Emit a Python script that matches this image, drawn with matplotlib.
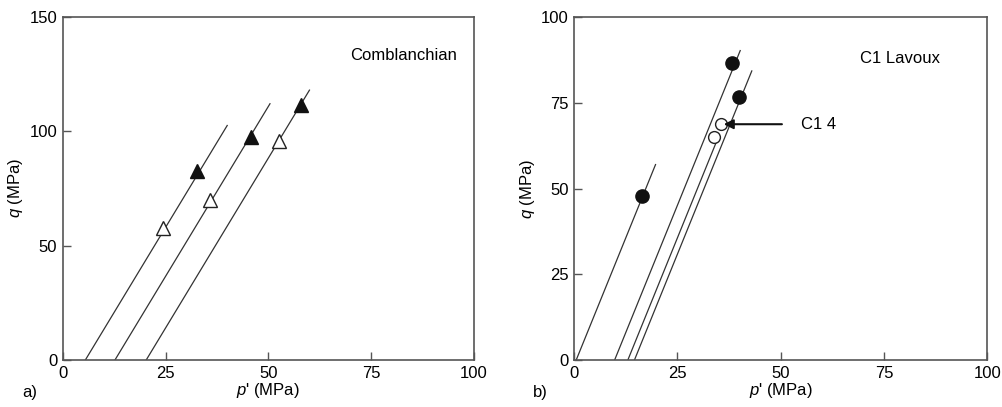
import matplotlib
matplotlib.use("Agg")
import matplotlib.pyplot as plt

plt.rcParams['font.family'] = ['Liberation Sans', 'DejaVu Sans']
plt.rcParams['mathtext.fontset'] = 'custom'
plt.rcParams['mathtext.it'] = 'Liberation Sans:italic'
plt.rcParams['mathtext.rm'] = 'Liberation Sans'

# a) Comblanchian
a_line_p0 = [5.5, 12.7, 20.3]
a_line_p1 = [40.0, 50.4, 60.0]
a_open_p = [24.5, 35.8, 52.6]
a_open_q = [57.5, 69.9, 95.8]
a_fill_p = [32.7, 45.7, 57.9]
a_fill_q = [82.7, 97.6, 111.4]

# b) C1 Lavoux
b_line_p0 = [0.5, 9.8, 13.0, 14.6]
b_line_p1 = [19.7, 40.2, 35.0, 43.0]
b_open_p = [33.9, 35.5]
b_open_q = [65.0, 68.8]
b_fill_p = [16.4, 38.3, 39.9]
b_fill_q = [47.8, 86.6, 76.6]

SLOPE = 2.97
EDGE = '#555555'
FS = 12


def style(ax, ymax, yticks):
	ax.set_xlim(0, 100)
	ax.set_ylim(0, ymax)
	ax.set_xticks([0, 25, 50, 75, 100])
	ax.set_yticks(yticks)
	ax.tick_params(direction='in', length=6, width=1, color=EDGE, labelsize=FS, pad=4)
	for s in ax.spines.values():
		s.set_color(EDGE)
		s.set_linewidth(1.2)
	ax.set_xlabel("$p$' (MPa)", fontsize=FS, labelpad=0)
	ax.set_ylabel("$q$ (MPa)", fontsize=FS, labelpad=3)


def lines(ax, p0s, p1s):
	for p0, p1 in zip(p0s, p1s):
		ax.plot([p0, p1], [0, SLOPE * (p1 - p0)], color='#333333', lw=0.9)


fig = plt.figure(figsize=(10.02, 4.07), dpi=100)
ax1 = fig.add_axes([0.0626, 0.1155, 0.4104, 0.8435])
ax2 = fig.add_axes([0.573, 0.1155, 0.4123, 0.842])

# panel a
lines(ax1, a_line_p0, a_line_p1)
ax1.plot(a_open_p, a_open_q, '^', ms=10.5, mfc='white', mec='#222222', mew=1)
ax1.plot(a_fill_p, a_fill_q, '^', ms=10.5, mfc='#111111', mec='#111111')
ax1.text(82.8, 133.2, "Comblanchian", ha='center', va='center', fontsize=FS)
style(ax1, 150, [0, 50, 100, 150])
fig.text(0.03, 0.035, "a)", fontsize=FS, ha='center', va='center')

# panel b
lines(ax2, b_line_p0, b_line_p1)
ax2.plot(b_open_p, b_open_q, 'o', ms=8.5, mfc='white', mec='#222222', mew=1)
ax2.plot(b_fill_p, b_fill_q, 'o', ms=9.5, mfc='#111111', mec='#111111')
ax2.text(78.9, 88.0, "C1 Lavoux", ha='center', va='center', fontsize=FS)
ax2.annotate("C1 4", xy=(36.2, 68.8), xytext=(55.0, 68.8), fontsize=FS,
	va='center', ha='left',
	arrowprops=dict(arrowstyle='-|>', color='#111111', lw=1.5, shrinkA=12, shrinkB=0,
		mutation_scale=14))
style(ax2, 100, [0, 25, 50, 75, 100])
fig.text(0.539, 0.035, "b)", fontsize=FS, ha='center', va='center')

fig.savefig("out.png", dpi=100)
